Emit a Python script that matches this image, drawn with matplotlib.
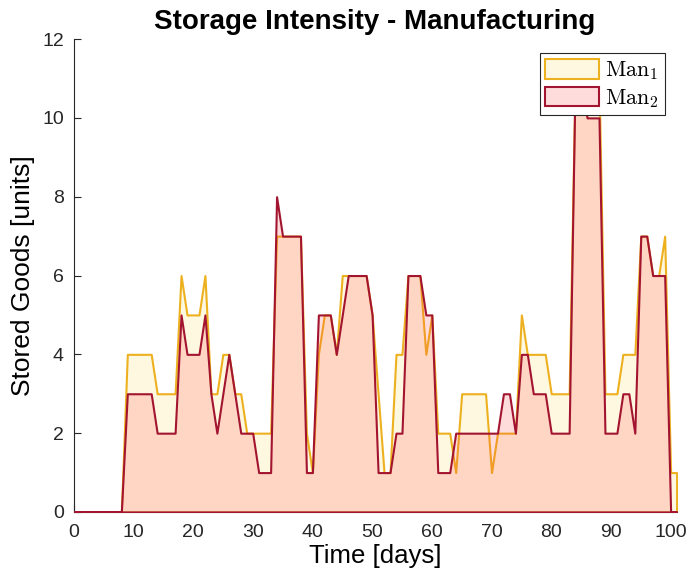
import numpy as np
import matplotlib
matplotlib.use('Agg')
from matplotlib import pyplot as plt

plt.rcParams['font.family'] = ['Liberation Sans', 'DejaVu Sans']
plt.rcParams['mathtext.fontset'] = 'cm'

# stored goods per day for the two manufacturing sites
days = np.arange(0, 102)
man1 = [0, 0, 0, 0, 0, 0, 0, 0, 0, 4,
        4, 4, 4, 4, 3, 3, 3, 3, 6, 5,
        5, 5, 6, 3, 3, 4, 4, 3, 3, 2,
        2, 2, 2, 2, 7, 7, 7, 7, 7, 2,
        1, 4, 5, 5, 4, 6, 6, 6, 6, 6,
        5, 3, 1, 1, 4, 4, 6, 6, 6, 4,
        5, 2, 2, 2, 1, 3, 3, 3, 3, 3,
        1, 2, 2, 2, 2, 5, 4, 4, 4, 4,
        3, 3, 3, 3, 11, 11, 11, 11, 11, 3,
        3, 3, 4, 4, 4, 7, 7, 6, 6, 7,
        1, 1]
man2 = [0, 0, 0, 0, 0, 0, 0, 0, 0, 3,
        3, 3, 3, 3, 2, 2, 2, 2, 5, 4,
        4, 4, 5, 3, 2, 3, 4, 3, 2, 2,
        2, 1, 1, 1, 8, 7, 7, 7, 7, 1,
        1, 5, 5, 5, 4, 5, 6, 6, 6, 6,
        5, 1, 1, 1, 2, 2, 6, 6, 6, 5,
        5, 1, 1, 1, 2, 2, 2, 2, 2, 2,
        2, 2, 3, 3, 2, 4, 4, 3, 3, 3,
        2, 2, 2, 2, 11, 11, 10, 10, 10, 2,
        2, 2, 3, 3, 2, 7, 7, 6, 6, 6,
        0, 0]

c1 = '#EDB120'
c2 = '#A2142F'

fig = plt.figure(figsize=(6.89, 5.83), dpi=100)
ax = fig.add_axes([0.1068, 0.1218, 0.8752, 0.8112])

ax.fill_between(days, 0, man1, facecolor=(1.0, 0.973, 0.882, 1.0),
                edgecolor=c1, linewidth=1.5, label=r'$\mathrm{Man}_1$', zorder=2)
ax.fill_between(days, 0, man2, facecolor=(1.0, 0.25, 0.25, 0.18),
                edgecolor=c2, linewidth=1.5, label=r'$\mathrm{Man}_2$', zorder=3)

ax.set_xlim(0, 101)
ax.set_ylim(0, 12)
ax.set_xticks(np.arange(0, 101, 10))
ax.set_yticks(np.arange(0, 13, 2))

for s in ['top', 'right']:
    ax.spines[s].set_visible(False)
for s in ['left', 'bottom']:
    ax.spines[s].set_color('#262626')
    ax.spines[s].set_linewidth(0.8)
ax.tick_params(direction='in', length=5, width=0.8, colors='#262626',
               labelsize=14, pad=7)
ax.tick_params(axis='x', pad=9)

ax.set_title('Storage Intensity - Manufacturing', fontsize=20, fontweight='bold', pad=7)
ax.set_xlabel('Time [days]', fontsize=18.5, labelpad=2)
ax.set_ylabel('Stored Goods [units]', fontsize=19, labelpad=5)

leg = ax.legend(loc='upper right', bbox_to_anchor=(0.98, 0.97), fontsize=16,
                fancybox=False, framealpha=1, edgecolor='#262626',
                handlelength=2.4, handleheight=1.0, handletextpad=0.3,
                borderpad=0.25, labelspacing=0.2, borderaxespad=0)
leg.get_frame().set_linewidth(0.8)

fig.savefig('out.png', dpi=100)
